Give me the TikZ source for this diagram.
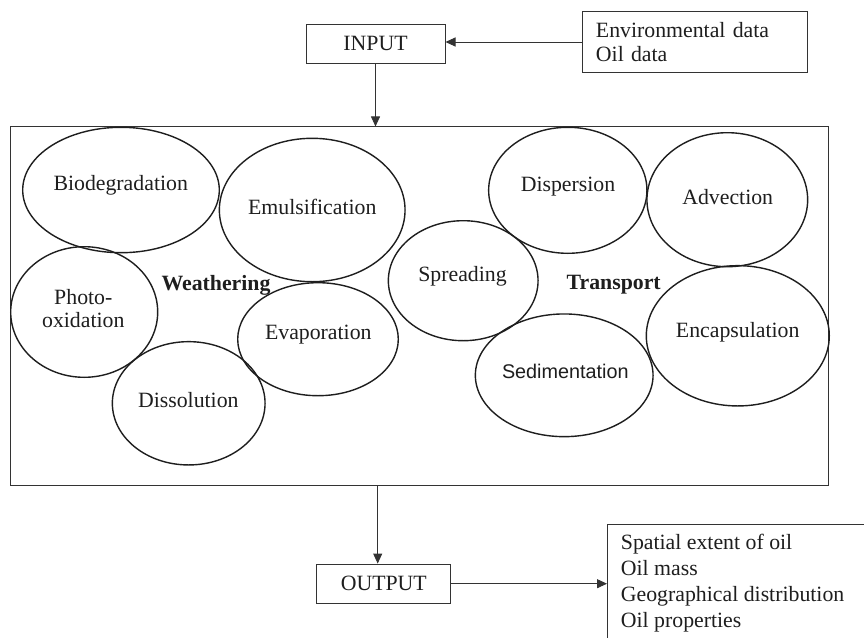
\documentclass[tikz,border=0pt]{standalone}
\usepackage{fontspec}
\setmainfont{Liberation Serif}
\newfontfamily\sedfont{Liberation Sans}
\usetikzlibrary{shapes.geometric,arrows.meta}
\definecolor{ink}{HTML}{1E1E1E}
\definecolor{lin}{HTML}{333333}
\begin{document}
\begin{tikzpicture}[x=1pt,y=-1pt,
  every node/.style={text=ink,font=\fontsize{21.8}{24.3}\selectfont},
  boxn/.style={draw=lin,line width=1pt,rectangle,inner sep=0pt},
  proc/.style={draw=ink,line width=1.4pt,ellipse,inner sep=0pt},
  lbl/.style={inner sep=0pt},
  arr/.style={draw=lin,line width=0.9pt,-{Triangle[width=9pt,length=10pt]}}]
\clip (0,0) rectangle (864,637);
\fill[white] (0,0) rectangle (864,637);
% boxes
\node[boxn,minimum width=139pt,minimum height=39.3pt] (input) at (375.5,43.7) {INPUT};
\node[boxn,minimum width=224.7pt,minimum height=60.6pt,text width=198.7pt,align=left,inner xsep=13pt] (env) at (695.3,42) {Environmental data\\Oil data};
\node[boxn,minimum width=818pt,minimum height=358.7pt] (model) at (419.7,306.3) {};
\node[boxn,minimum width=134.3pt,minimum height=39.3pt] (outp) at (383.8,583.7) {OUTPUT};
\node[boxn,anchor=north west,minimum width=300pt,minimum height=150pt] (res) at (607,524.3) {};
\node[lbl,anchor=west,align=left,font=\fontsize{21.8}{25.8}\selectfont] (restext) at (620.7,583) {Spatial extent of oil\\Oil mass\\Geographical distribution\\Oil properties};
% ellipses
\node[proc,minimum width=196.6pt,minimum height=125.4pt] (bio) at (121,190) {};
\node[proc,minimum width=185.7pt,minimum height=143.4pt] (emul) at (312.2,210) {};
\node[proc,minimum width=147pt,minimum height=130.6pt] (photo) at (84.2,312) {};
\node[proc,minimum width=160.6pt,minimum height=113pt] (evap) at (318,339.2) {};
\node[proc,minimum width=152.7pt,minimum height=123.3pt] (diss) at (188.7,403.3) {};
\node[proc,minimum width=149.7pt,minimum height=120pt] (spread) at (463.2,280.7) {};
\node[proc,minimum width=158.3pt,minimum height=126pt] (disp) at (567.8,190.3) {};
\node[proc,minimum width=160.7pt,minimum height=134pt] (adv) at (727.3,199.7) {};
\node[proc,minimum width=183pt,minimum height=140.3pt] (enc) at (737.8,335.8) {};
\node[proc,minimum width=177.7pt,minimum height=122.7pt] (sed) at (564.2,375.3) {};
% labels
\node[lbl] (tbio) at (120.7,185.7) {Biodegradation};
\node[lbl] (temul) at (312.3,206.7) {Emulsification};
\node[lbl,align=center,font=\fontsize{21.8}{23.3}\selectfont] (tphoto) at (83.3,308.3) {Photo-\\oxidation};
\node[lbl,font=\fontsize{21.8}{24.3}\selectfont\bfseries] (tweath) at (216,285) {Weathering};
\node[lbl] (tevap) at (318.3,335) {Evaporation};
\node[lbl] (tdiss) at (188.3,400) {Dissolution};
\node[lbl] (tspread) at (462.5,276.7) {Spreading};
\node[lbl] (tdisp) at (568,186.7) {Dispersion};
\node[lbl] (tadv) at (727.7,196.7) {Advection};
\node[lbl,font=\fontsize{21.8}{24.3}\selectfont\bfseries] (ttrans) at (613.7,285) {Transport};
\node[lbl] (tenc) at (737.7,332.3) {Encapsulation};
\node[lbl,font=\fontsize{19.8}{22}\sedfont] (tsed) at (565.3,371) {Sedimentation};
% connectors
\coordinate (o1) at (377.7,485.7);
\draw[arr] (env.west) -- (env.west -| input.east);
\draw[arr] (input.south) -- (input.south |- model.north);
\draw[arr] (o1) -- (o1 |- outp.north);
\draw[arr] (outp.east) -- (outp.east -| res.west);
\end{tikzpicture}
\end{document}
